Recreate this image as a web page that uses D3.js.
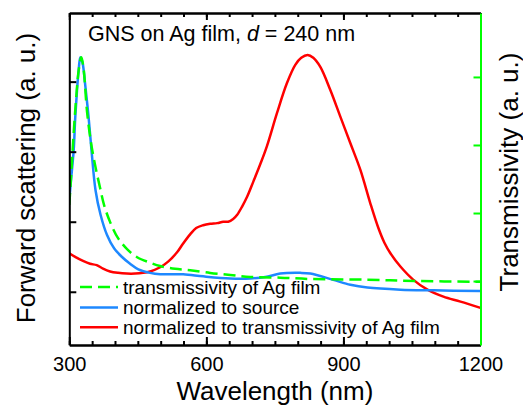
<!DOCTYPE html>
<html><head><meta charset="utf-8">
<script src="https://cdn.jsdelivr.net/npm/d3@7"></script>
<style>
html,body{margin:0;padding:0;background:#fff;}
text{font-family:"Liberation Sans",Arial,sans-serif;fill:#000;}
</style></head>
<body>
<svg id="chart" width="523" height="408"></svg>
<script>
// Wavelength (nm) and values
const blueX = [300,304.8,309.6,313.1,316.9,320.6,324.1,328.9,334.4,342.1,348.6,357.4,368.4,382.6,398,414.8,433,451.2,476.8,498.8,549.2,593,652.2,696,728.9,761.7,805.6,827.5,877.9,915.2,952.4,1024.7,1097,1200];
const blueY = [2.31,2.67,3.02,3.50,3.88,4.17,4.35,4.27,3.98,3.50,3.02,2.45,2.10,1.81,1.62,1.50,1.40,1.32,1.27,1.25,1.25,1.22,1.19,1.19,1.21,1.26,1.27,1.26,1.17,1.10,1.06,1.03,1.02,1.01];
const redX = [300,314.7,330,345.4,360,373.8,389.2,406.7,425.8,444,461.5,476.8,498.8,516.3,535.4,549.2,564.5,577.7,593,608.3,623.7,636.8,647.8,658.7,667.5,678.5,689.4,703.2,717.9,732.6,754.5,776.4,794.6,807.7,821.6,834,849.4,871.3,893.2,915.2,937.1,959,976.5,989.7,1002.8,1024.7,1053.2,1083.9,1118.9,1156.2,1200];
const redY = [1.55,1.49,1.44,1.40,1.38,1.33,1.29,1.27,1.26,1.26,1.27,1.29,1.35,1.43,1.56,1.69,1.82,1.91,1.95,1.97,1.98,2.00,2.00,2.04,2.10,2.22,2.36,2.58,2.82,3.08,3.55,3.98,4.24,4.34,4.38,4.34,4.21,3.88,3.50,3.12,2.74,2.26,1.91,1.70,1.55,1.36,1.17,1.03,0.93,0.86,0.77];
const greenX = [300,304.8,309.6,314.7,320.6,326.3,331.1,338.8,347.6,356.3,367.3,376,389.2,406.7,426.4,448.4,476.8,498.8,531.6,564.5,608.3,652.2,696,761.7,827.5,952.4,1062,1200];
const greenY = [2.12,2.63,3.18,3.66,4.10,4.29,4.13,3.49,3.03,2.71,2.37,2.12,1.87,1.63,1.47,1.35,1.27,1.22,1.18,1.16,1.12,1.09,1.06,1.05,1.03,1.02,1.00,0.99];

const xMajorTicks = [300,600,900,1200];
const xMinorTicks = d3.range(300,1201,50);
const leftTicks = [1,2,3,4];
const rightTicks = [1,2,3,4];
const legendLabels = ["transmissivity of Ag film","normalized to source","normalized to transmissivity of Ag film"];

const L=69.3, R=480.5, T=13, B=345;
const svg = d3.select("#chart");
const x = d3.scaleLinear().domain([300,1200]).range([L,R]);
const yL = d3.scaleLinear().domain([0.24,4.98]).range([B,T]);
const yR = d3.scaleLinear().domain([0.06,4.94]).range([B,T]);

svg.append("clipPath").attr("id","clip").append("rect")
  .attr("x",L).attr("y",T).attr("width",R-L).attr("height",B-T);

const g = svg.append("g").attr("clip-path","url(#clip)");
const curve = d3.curveCatmullRom.alpha(0.5);
const lineL = (xs,ys)=>d3.line().curve(curve).x((d,i)=>x(xs[i])).y((d,i)=>yL(ys[i]))(ys);
const lineR = (xs,ys)=>d3.line().curve(curve).x((d,i)=>x(xs[i])).y((d,i)=>yR(ys[i]))(ys);

g.append("path").attr("d",lineL(redX,redY)).attr("fill","none").attr("stroke","#ff0000").attr("stroke-width",2.5);
g.append("path").attr("d",lineL(blueX,blueY)).attr("fill","none").attr("stroke","#1e88ff").attr("stroke-width",2.5);
g.append("path").attr("d",lineR(greenX,greenY)).attr("fill","none").attr("stroke","#00ff00").attr("stroke-width",2.5).attr("stroke-dasharray","12,6");

// axes
function styleAxis(sel,color){
  sel.selectAll("path.domain").attr("stroke",color).attr("stroke-width",2);
  sel.selectAll(".tick line").attr("stroke",color).attr("stroke-width",2);
  sel.selectAll(".tick text").remove();
}
// bottom
svg.append("g").attr("transform",`translate(0,${B})`).call(d3.axisTop(x).tickValues(xMinorTicks).tickSizeInner(4).tickSizeOuter(0)).call(styleAxis,"#000");
svg.append("g").attr("transform",`translate(0,${B})`).call(d3.axisTop(x).tickValues(xMajorTicks).tickSizeInner(8).tickSizeOuter(0)).call(styleAxis,"#000");
const xl = svg.append("g").attr("transform",`translate(0,${B})`).call(d3.axisBottom(x).tickValues(xMajorTicks).tickSize(0).tickPadding(0).tickFormat(d3.format("d")));
xl.select("path.domain").remove();
xl.selectAll(".tick text").attr("y",26).attr("dy",0).style("font-size","20px").style("font-family","'Liberation Sans',Arial,sans-serif");
// top
svg.append("g").attr("transform",`translate(0,${T})`).call(d3.axisBottom(x).tickValues(xMinorTicks).tickSizeInner(4).tickSizeOuter(0)).call(styleAxis,"#000");
svg.append("g").attr("transform",`translate(0,${T})`).call(d3.axisBottom(x).tickValues(xMajorTicks).tickSizeInner(7).tickSizeOuter(0)).call(styleAxis,"#000");
// left
svg.append("g").attr("transform",`translate(${L},0)`).call(d3.axisRight(yL).tickValues(leftTicks).tickSizeInner(7).tickSizeOuter(0)).call(styleAxis,"#000");
// right
svg.append("g").attr("transform",`translate(${R},0)`).call(d3.axisLeft(yR).tickValues(rightTicks).tickSizeInner(7).tickSizeOuter(0)).call(styleAxis,"#00ff00");

// title
const title = svg.append("text").attr("x",88).attr("y",41).style("font-size","21.5px");
title.append("tspan").text("GNS on Ag film, ");
title.append("tspan").style("font-style","italic").text("d");
title.append("tspan").text(" = 240 nm");

// axis labels
svg.append("text").attr("x",(L+R)/2).attr("y",400).attr("text-anchor","middle").style("font-size","26px").text("Wavelength (nm)");
svg.append("text").attr("transform",`translate(35,178) rotate(-90)`).attr("text-anchor","middle").style("font-size","26px").text("Forward scattering (a. u.)");
svg.append("text").attr("transform",`translate(518,172) rotate(-90)`).attr("text-anchor","middle").style("font-size","26px").text("Transmissivity (a. u.)");

// legend
const legColors = ["#00ff00","#1e88ff","#ff0000"];
const legDash = ["12,6",null,null];
const legY = [287,307.5,327.3];
legendLabels.forEach((lab,i)=>{
  svg.append("line").attr("x1",80).attr("x2",118).attr("y1",legY[i]).attr("y2",legY[i])
    .attr("stroke",legColors[i]).attr("stroke-width",2.5).attr("stroke-dasharray",legDash[i]);
  svg.append("text").attr("x",123).attr("y",legY[i]+6.5).style("font-size","19px").text(lab);
});
</script>
</body></html>
